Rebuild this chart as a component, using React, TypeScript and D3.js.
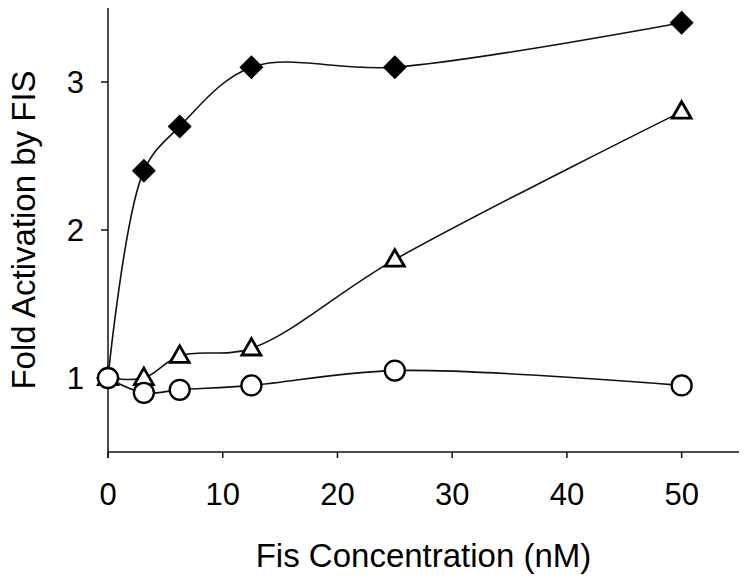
import React from "react";
import * as d3 from "d3";

const concentrations = [0, 3.125, 6.25, 12.5, 25, 50];
const diamondSeries = [1.0, 2.4, 2.7, 3.1, 3.1, 3.4];
const triangleSeries = [1.0, 1.0, 1.15, 1.2, 1.8, 2.8];
const circleSeries = [1.0, 0.9, 0.92, 0.95, 1.05, 0.95];
const xTicks = [0, 10, 20, 30, 40, 50];
const yTicks = [1, 2, 3];
const xTitle = "Fis Concentration (nM)";
const yTitle = "Fold Activation by FIS";

const W = 744;
const H = 581;
const FONT = "'Liberation Sans', Arial, Helvetica, sans-serif";

export default function App() {
  const x = d3.scaleLinear().domain([0, 55]).range([108, 739]);
  const y = d3.scaleLinear().domain([0.5, 3.5]).range([452, 8]);

  const line = d3
    .line<number>()
    .x((_, i) => x(concentrations[i]))
    .y((d) => y(d))
    .curve(d3.curveCatmullRom.alpha(0.5));

  const stroke = "#111";

  const diamond = (cx: number, cy: number, r: number) =>
    `M${cx},${cy - r}L${cx + r},${cy}L${cx},${cy + r}L${cx - r},${cy}Z`;
  const triangle = (cx: number, cy: number, s: number) => {
    const h = s * 0.87;
    return `M${cx},${cy - h * 0.6}L${cx + s / 2},${cy + h * 0.4}L${cx - s / 2},${cy + h * 0.4}Z`;
  };

  return (
    <svg
      width={W}
      height={H}
      style={{ position: "absolute", left: 0, top: 0, background: "#fff" }}
      fontFamily={FONT}
    >
      <rect width={W} height={H} fill="#fff" />
      {/* axes */}
      <line x1={x(0)} x2={x(0)} y1={y(3.5)} y2={y(0.5) + 6} stroke={stroke} strokeWidth={1.5} />
      <line x1={x(0)} x2={x(55)} y1={y(0.5)} y2={y(0.5)} stroke={stroke} strokeWidth={1.5} />
      {xTicks.map((t) => (
        <g key={"xt" + t}>
          <line x1={x(t)} x2={x(t)} y1={y(0.5)} y2={y(0.5) + 6} stroke={stroke} strokeWidth={1.5} />
          <text x={x(t)} y={505} fontSize={31} textAnchor="middle" fill="#000">
            {t}
          </text>
        </g>
      ))}
      {yTicks.map((t) => (
        <g key={"yt" + t}>
          <line x1={x(0) - 7} x2={x(0)} y1={y(t)} y2={y(t)} stroke={stroke} strokeWidth={1.5} />
          <text x={84} y={y(t) + 11} fontSize={31} textAnchor="end" fill="#000">
            {t}
          </text>
        </g>
      ))}
      <text x={(x(0) + x(55)) / 2} y={567} fontSize={33} textAnchor="middle" fill="#000">
        {xTitle}
      </text>
      <text
        transform={`translate(35,${(y(0.5) + y(3.5)) / 2}) rotate(-90)`}
        fontSize={33}
        textAnchor="middle"
        fill="#000"
      >
        {yTitle}
      </text>

      {/* lines */}
      <path d={line(diamondSeries) || ""} fill="none" stroke={stroke} strokeWidth={1.6} />
      <path d={line(triangleSeries) || ""} fill="none" stroke={stroke} strokeWidth={1.6} />
      <path d={line(circleSeries) || ""} fill="none" stroke={stroke} strokeWidth={1.6} />

      {/* markers */}
      {diamondSeries.map((v, i) => (
        <path key={"d" + i} d={diamond(x(concentrations[i]), y(v), 12)} fill="#000" />
      ))}
      {triangleSeries.map((v, i) => (
        <path
          key={"t" + i}
          d={triangle(x(concentrations[i]), y(v), 19)}
          fill="#fff"
          stroke="#000"
          strokeWidth={2.8}
          strokeLinejoin="miter"
        />
      ))}
      {circleSeries.map((v, i) => (
        <circle
          key={"c" + i}
          cx={x(concentrations[i])}
          cy={y(v)}
          r={10}
          fill="#fff"
          stroke="#000"
          strokeWidth={2.3}
        />
      ))}
    </svg>
  );
}
